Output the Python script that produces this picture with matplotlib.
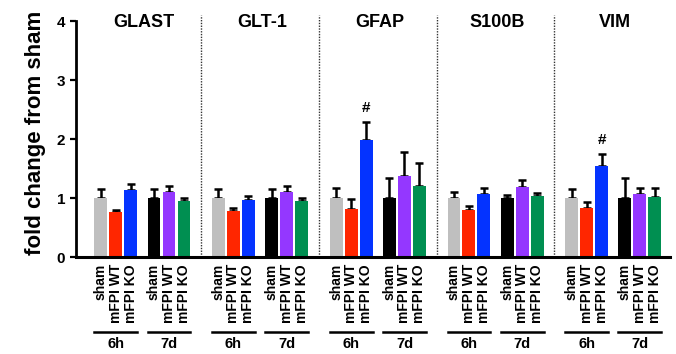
import matplotlib
matplotlib.use('Agg')
import matplotlib.pyplot as plt

# datos (fold change from sham)
genes = ['GLAST', 'GLT-1', 'GFAP', 'S100B', 'VIM']
condiciones = ['sham', 'mFPI WT', 'mFPI KO']
tiempos = ['6h', '7d']

media_glast = [1.00, 0.76, 1.14, 1.00, 1.10, 0.95]
media_glt1 = [1.00, 0.78, 0.97, 1.00, 1.10, 0.95]
media_gfap = [1.00, 0.81, 1.98, 1.00, 1.38, 1.21]
media_s100b = [1.00, 0.79, 1.07, 1.00, 1.19, 1.04]
media_vim = [1.00, 0.83, 1.55, 1.00, 1.07, 1.01]

sem_glast = [0.15, 0.03, 0.10, 0.15, 0.11, 0.05]
sem_glt1 = [0.15, 0.05, 0.07, 0.15, 0.11, 0.05]
sem_gfap = [0.17, 0.17, 0.31, 0.34, 0.40, 0.39]
sem_s100b = [0.10, 0.07, 0.10, 0.05, 0.11, 0.05]
sem_vim = [0.16, 0.11, 0.19, 0.34, 0.10, 0.16]

# (gen, indice de barra) con marca '#'
marcas = [('GFAP', 2), ('VIM', 2)]

medias = [media_glast, media_glt1, media_gfap, media_s100b, media_vim]
sems = [sem_glast, sem_glt1, sem_gfap, sem_s100b, sem_vim]

colores = ['#bfbfbf', '#ff2600', '#0433ff', '#000000', '#9437ff', '#008f51']
offsets = [0, 1, 2, 3.55, 4.55, 5.55]
paso = 7.85

plt.rcParams['font.family'] = ['Liberation Sans', 'DejaVu Sans']
plt.rcParams['font.weight'] = 'bold'

fig = plt.figure(figsize=(6.76, 3.54), dpi=100)
ax = fig.add_axes([0.112, 0.274, 0.879, 0.70])

pos_ticks = []
etiquetas = []
for i, gen in enumerate(genes):
    base = i * paso
    xs = [base + o for o in offsets]
    ax.bar(xs, medias[i], width=0.86, color=colores, zorder=2)
    ax.errorbar(xs, medias[i], yerr=[[0] * 6, sems[i]], fmt='none', ecolor='black',
                elinewidth=1.8, capsize=3.2, capthick=1.8, zorder=1)
    ax.text(base + 2.9, 3.97, gen, ha='center', va='center', fontsize=13, fontweight='bold')
    pos_ticks += xs
    etiquetas += condiciones * 2
    if i < len(genes) - 1:
        ax.axvline(base + 6.7, ymin=0, ymax=0.975, color='#333333', lw=1.0,
                   ls=(0, (1, 1)), zorder=0)
    # lineas de grupo y etiquetas de tiempo
    for j, t in enumerate(tiempos):
        x0 = xs[3 * j] - 0.43
        x1 = xs[3 * j + 2] + 0.43
        ax.plot([x0, x1], [-0.301, -0.301], color='black', lw=1.8,
                transform=ax.get_xaxis_transform(), clip_on=False)
        ax.text((x0 + x1) / 2, -0.35, t, ha='center', va='center', fontsize=10.5,
                fontweight='bold', transform=ax.get_xaxis_transform())

for gen, k in marcas:
    i = genes.index(gen)
    x = i * paso + offsets[k]
    ax.text(x, medias[i][k] + sems[i][k] + 0.12, '#', ha='center', va='bottom',
            fontsize=11, fontweight='bold')

ax.set_xlim(-1.67, 37.95)
ax.set_ylim(0, 4.2)
ax.set_yticks([0, 1, 2, 3, 4])
ax.set_xticks(pos_ticks)
ax.set_xticklabels(etiquetas, rotation=90, fontsize=10, fontweight='bold', va='top')
ax.tick_params(axis='x', length=0, pad=5)
ax.tick_params(axis='y', labelsize=11, width=1.6, length=4)
for lab in ax.get_yticklabels():
    lab.set_fontweight('bold')

ax.spines['top'].set_visible(False)
ax.spines['right'].set_visible(False)
ax.spines['left'].set_linewidth(2)
ax.spines['bottom'].set_linewidth(2.2)
ax.spines['left'].set_bounds(0, 4)

ax.set_ylabel('fold change from sham', fontsize=16, fontweight='bold', labelpad=8)

fig.savefig('out.png', dpi=100)
